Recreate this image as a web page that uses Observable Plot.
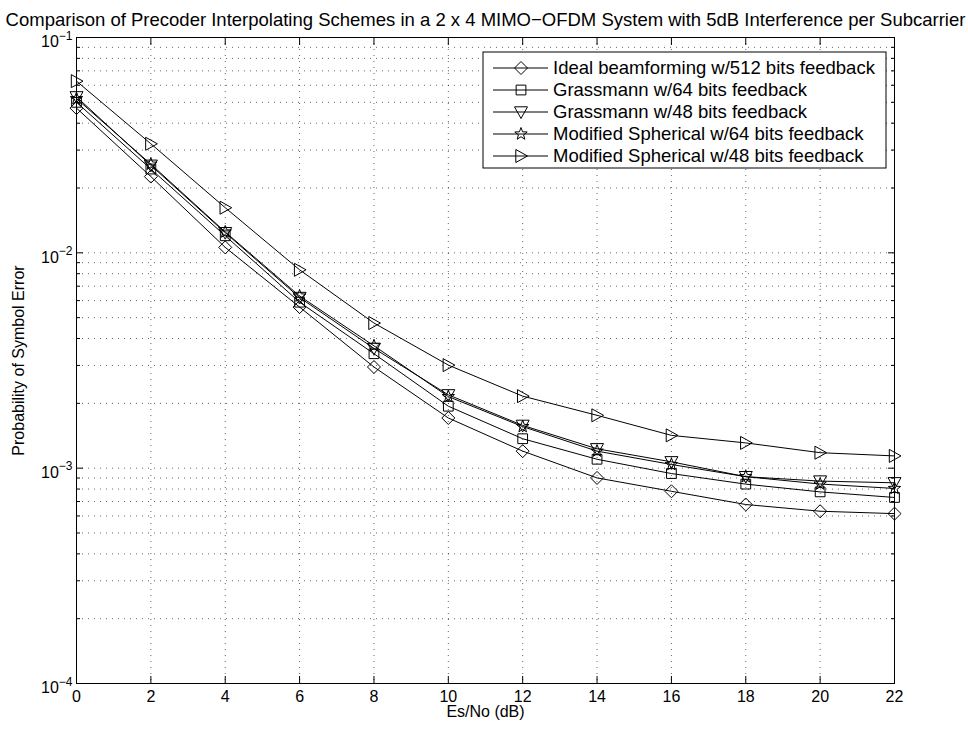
<!DOCTYPE html>
<html><head><meta charset="utf-8">
<script src="https://cdn.jsdelivr.net/npm/d3@7"></script>
<script src="https://cdn.jsdelivr.net/npm/@observablehq/plot@0.6"></script>
<style>body{margin:0;background:#fff;} svg{font-family:"Liberation Sans",Arial,Helvetica,sans-serif;}</style>
</head><body><div id="chart"></div>
<script>
// ---- data ----
const titleText = "Comparison of Precoder Interpolating Schemes in a 2 x 4 MIMO\u2212OFDM System with 5dB Interference per Subcarrier";
const xLabel = "Es/No (dB)";
const yLabel = "Probability of Symbol Error";
const snr = [0, 2, 4, 6, 8, 10, 12, 14, 16, 18, 20, 22];
const seriesNames = [
  "Ideal beamforming w/512 bits feedback",
  "Grassmann w/64 bits feedback",
  "Grassmann w/48 bits feedback",
  "Modified Spherical w/64 bits feedback",
  "Modified Spherical w/48 bits feedback"
];
const ideal512 = [0.047, 0.0226, 0.0106, 0.0056, 0.00295, 0.00171, 0.00120, 0.000901, 0.000781, 0.000678, 0.000631, 0.000615];
const grass64 = [0.050, 0.0245, 0.0120, 0.0059, 0.0034, 0.00194, 0.00137, 0.00110, 0.000944, 0.000843, 0.000776, 0.000731];
const grass48 = [0.053, 0.0255, 0.0124, 0.0062, 0.0036, 0.00219, 0.00158, 0.00123, 0.00107, 0.000913, 0.000871, 0.000855];
const sph64 = [0.052, 0.0258, 0.0125, 0.0063, 0.0037, 0.00215, 0.00156, 0.00120, 0.00104, 0.000913, 0.000844, 0.000805];
const sph48 = [0.0627, 0.0321, 0.0162, 0.00834, 0.00472, 0.00301, 0.00216, 0.00176, 0.00142, 0.00131, 0.00118, 0.00114];
const seriesValues = [ideal512, grass64, grass48, sph64, sph48];
const xTicks = [0, 2, 4, 6, 8, 10, 12, 14, 16, 18, 20, 22];
const yMajorTicks = [1e-4, 1e-3, 1e-2, 1e-1];
const yMinorTicks = [];
for (const e of [-4, -3, -2]) for (let k = 2; k <= 9; k++) yMinorTicks.push(k * Math.pow(10, e));

// ---- symbols (MATLAB-like hollow markers) ----
const R = s => Math.sqrt(s / Math.PI);
const symDiamond = {draw(c, s) { const r = R(s); c.moveTo(0, -r); c.lineTo(r, 0); c.lineTo(0, r); c.lineTo(-r, 0); c.closePath(); }};
const symSquare = {draw(c, s) { const r = R(s) * 0.75; c.moveTo(-r, -r); c.lineTo(r, -r); c.lineTo(r, r); c.lineTo(-r, r); c.closePath(); }};
const symTriDown = {draw(c, s) { const r = R(s); c.moveTo(-r, -0.8 * r); c.lineTo(r, -0.8 * r); c.lineTo(0, r); c.closePath(); }};
const symTriRight = {draw(c, s) { const r = R(s); c.moveTo(-0.8 * r, -r); c.lineTo(-0.8 * r, r); c.lineTo(r, 0); c.closePath(); }};
const symStar = {draw(c, s) { const r = R(s); const ri = r * 0.42;
  for (let i = 0; i < 10; i++) { const a = -Math.PI / 2 + i * Math.PI / 5; const rr = i % 2 ? ri : r;
    const x = rr * Math.cos(a), y = rr * Math.sin(a); if (i) c.lineTo(x, y); else c.moveTo(x, y); } c.closePath(); }};
const symbols = [symDiamond, symSquare, symTriDown, symStar, symTriRight];

const data = seriesNames.flatMap((name, i) => snr.map((x, j) => ({series: name, snr: x, pe: seriesValues[i][j]})));

const gridStyle = {stroke: "#000", strokeOpacity: 0.6, strokeDasharray: "1,5", strokeWidth: 1};

const plot = Plot.plot({
  width: 968, height: 731,
  marginLeft: 76, marginRight: 74, marginTop: 37, marginBottom: 48,
  style: {fontFamily: "'Liberation Sans', Arial, Helvetica, sans-serif", background: "#fff"},
  x: {type: "linear", domain: [0, 22], label: null},
  y: {type: "log", domain: [1e-4, 1e-1], label: null},
  marks: [
    Plot.gridX(xTicks.slice(1, -1), gridStyle),
    Plot.gridY([...yMajorTicks.slice(1, -1), ...yMinorTicks], gridStyle),
    // inward ticks
    Plot.axisX(xTicks, {anchor: "bottom", tickSize: -7, tickFormat: () => "", label: null}),
    Plot.axisX(xTicks, {anchor: "top", tickSize: -7, tickFormat: () => "", label: null}),
    Plot.axisY(yMajorTicks, {anchor: "left", tickSize: -7, tickFormat: () => "", label: null}),
    Plot.axisY(yMajorTicks, {anchor: "right", tickSize: -7, tickFormat: () => "", label: null}),
    Plot.axisY(yMinorTicks, {anchor: "left", tickSize: -4, tickFormat: () => "", label: null}),
    Plot.axisY(yMinorTicks, {anchor: "right", tickSize: -4, tickFormat: () => "", label: null}),
    // labels
    Plot.axisX(xTicks, {anchor: "bottom", tickSize: 0, tickPadding: 7, fontSize: 16, label: null}),
    Plot.axisY(yMajorTicks, {anchor: "left", tickSize: 0, tickPadding: 4, fontSize: 16, label: null,
      tickFormat: d => "10^" + Math.round(Math.log10(d))}),
    Plot.frame({stroke: "#000", strokeWidth: 1}),
    Plot.line(data, {x: "snr", y: "pe", z: "series", stroke: "#000", strokeWidth: 1}),
    ...seriesNames.map((name, i) => Plot.dot(data.filter(d => d.series === name),
      {x: "snr", y: "pe", symbol: symbols[i], r: 6.5, stroke: "#000", fill: "none", strokeWidth: 1})),
    Plot.text([titleText], {frameAnchor: "top", dy: -25, fontSize: 18.5, fill: "#000"}),
    Plot.text([xLabel], {frameAnchor: "bottom", dy: 33, fontSize: 16, fill: "#000"}),
    Plot.text([yLabel], {frameAnchor: "left", textAnchor: "middle", dx: -58, rotate: -90, fontSize: 16, fill: "#000"})
  ]
});

// superscript exponents on y tick labels
d3.select(plot).selectAll("text").each(function() {
  const t = d3.select(this);
  const s = t.text();
  const m = /^10\^(-?\d+)$/.exec(s);
  if (m) {
    t.text("");
    t.append("tspan").attr("dy", "0.3em").text("10");
    t.append("tspan").attr("dy", "-0.65em").attr("font-size", "12px").text(m[1].replace("-", "\u2212"));
  }
});

// legend
const svg = d3.select(plot);
const lx = 483, ly = 52, lw = 403, lh = 116, rowH = 22;
const lg = svg.append("g").attr("aria-label", "legend");
lg.append("rect").attr("x", lx).attr("y", ly).attr("width", lw).attr("height", lh)
  .attr("fill", "#fff").attr("stroke", "#000").attr("stroke-width", 1);
seriesNames.forEach((name, i) => {
  const cy = ly + 16 + i * rowH;
  lg.append("line").attr("x1", lx + 10).attr("x2", lx + 65).attr("y1", cy).attr("y2", cy)
    .attr("stroke", "#000").attr("stroke-width", 1);
  lg.append("path").attr("transform", `translate(${lx + 38},${cy})`)
    .attr("d", d3.symbol(symbols[i], 6.5 * 6.5 * Math.PI)()).attr("fill", "none").attr("stroke", "#000");
  lg.append("text").attr("x", lx + 70).attr("y", cy).attr("dy", "0.35em")
    .attr("text-anchor", "start").attr("font-size", 18.5).attr("fill", "#000").text(name);
});

document.getElementById("chart").appendChild(plot);
</script>
</body></html>
